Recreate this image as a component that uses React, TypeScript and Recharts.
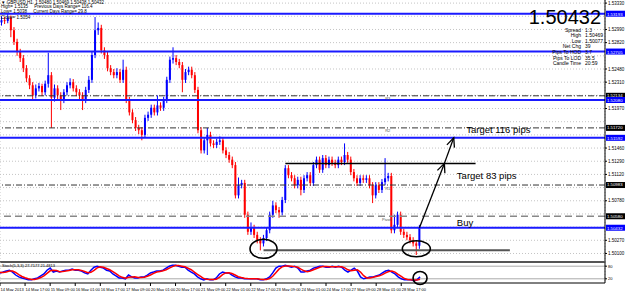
import React from "react";
import {
  ComposedChart,
  Bar,
  Line,
  XAxis,
  YAxis,
  CartesianGrid,
  ReferenceLine,
  ReferenceDot,
} from "recharts";

// GBPUSD candles
const opens = [
  1.5308, 1.5311, 1.531, 1.5314, 1.5298, 1.5283, 1.527, 1.5262, 1.5249, 1.5236,
  1.5227, 1.5214, 1.5223, 1.5226, 1.5218, 1.5229, 1.524, 1.5211, 1.5223, 1.5214,
  1.5208, 1.5218, 1.5227, 1.5231, 1.5223, 1.5218, 1.5214, 1.5208, 1.5221, 1.5234,
  1.5266, 1.5298, 1.5301, 1.5272, 1.5266, 1.5249, 1.5244, 1.524, 1.5244, 1.5234,
  1.5247, 1.5208, 1.5192, 1.5182, 1.5172, 1.5169, 1.5163, 1.5185, 1.5189, 1.5198,
  1.5192, 1.5201, 1.5198, 1.5208, 1.5234, 1.526, 1.5262, 1.5257, 1.5253, 1.5234,
  1.5244, 1.5247, 1.524, 1.5221, 1.5169, 1.5143, 1.5156, 1.5163, 1.5152, 1.515,
  1.5154, 1.5156, 1.5143, 1.5137, 1.5131, 1.5124, 1.5085, 1.5098, 1.5101, 1.506,
  1.5038, 1.5043, 1.5034, 1.5027, 1.5023, 1.503, 1.504, 1.506, 1.5072, 1.5066,
  1.5063, 1.5079, 1.512, 1.5111, 1.5107, 1.5098, 1.5105, 1.5092, 1.5107, 1.5111,
  1.5101, 1.5124, 1.5131, 1.5118, 1.5133, 1.5124, 1.5131, 1.5127, 1.5124, 1.5131,
  1.5128, 1.5137, 1.5131, 1.5115, 1.5107, 1.5101, 1.5107, 1.5105, 1.5107, 1.5098,
  1.5085, 1.5098, 1.5092, 1.5102, 1.5107, 1.511, 1.504, 1.5047, 1.506, 1.5038,
  1.5034, 1.5031, 1.5027, 1.5023, 1.502,
];
const closes = [
  1.5311, 1.531, 1.5314, 1.5298, 1.5283, 1.527, 1.5262, 1.5249, 1.5236, 1.5227,
  1.5214, 1.5223, 1.5226, 1.5218, 1.5229, 1.524, 1.5211, 1.5223, 1.5214, 1.5208,
  1.5218, 1.5227, 1.5231, 1.5223, 1.5218, 1.5214, 1.5208, 1.5221, 1.5234, 1.5266,
  1.5298, 1.5301, 1.5272, 1.5266, 1.5249, 1.5244, 1.524, 1.5244, 1.5234, 1.5247,
  1.5208, 1.5192, 1.5182, 1.5172, 1.5169, 1.5163, 1.5185, 1.5189, 1.5198, 1.5192,
  1.5201, 1.5198, 1.5208, 1.5234, 1.526, 1.5262, 1.5257, 1.5253, 1.5234, 1.5244,
  1.5247, 1.524, 1.5221, 1.5169, 1.5143, 1.5156, 1.5163, 1.5152, 1.515, 1.5154,
  1.5156, 1.5143, 1.5137, 1.5131, 1.5124, 1.5085, 1.5098, 1.5101, 1.506, 1.5038,
  1.5043, 1.5034, 1.5027, 1.5023, 1.503, 1.504, 1.506, 1.5072, 1.5066, 1.5063,
  1.5079, 1.512, 1.5111, 1.5107, 1.5098, 1.5105, 1.5092, 1.5107, 1.5111, 1.5101,
  1.5124, 1.5131, 1.5118, 1.5133, 1.5124, 1.5131, 1.5127, 1.5124, 1.5131, 1.5128,
  1.5137, 1.5131, 1.5115, 1.5107, 1.5101, 1.5107, 1.5105, 1.5107, 1.5098, 1.5085,
  1.5098, 1.5092, 1.5102, 1.5107, 1.511, 1.504, 1.5047, 1.506, 1.5038, 1.5034,
  1.5031, 1.5027, 1.5023, 1.502, 1.50432,
];
const highs = [
  1.5316, 1.5315, 1.5319, 1.5317, 1.5302, 1.5287, 1.5274, 1.5266, 1.5253, 1.524,
  1.5231, 1.5228, 1.523, 1.5229, 1.5233, 1.5269, 1.5244, 1.5228, 1.5227, 1.5218,
  1.5222, 1.5231, 1.5236, 1.5235, 1.5227, 1.5222, 1.5218, 1.5225, 1.5239, 1.527,
  1.5315, 1.5308, 1.5305, 1.5276, 1.527, 1.5253, 1.5248, 1.5249, 1.5248, 1.526,
  1.5251, 1.5212, 1.5196, 1.5186, 1.5176, 1.5173, 1.5189, 1.5193, 1.5202, 1.5202,
  1.5214, 1.5205, 1.5212, 1.5238, 1.5264, 1.5276, 1.5266, 1.5261, 1.5257, 1.5248,
  1.5251, 1.5251, 1.5244, 1.5225, 1.5173, 1.516, 1.5172, 1.5167, 1.5156, 1.5158,
  1.5161, 1.516, 1.5147, 1.5141, 1.5135, 1.5128, 1.5108, 1.5105, 1.5105, 1.5064,
  1.505, 1.5047, 1.5038, 1.5031, 1.5034, 1.5044, 1.5064, 1.5078, 1.5076, 1.507,
  1.5083, 1.5124, 1.5124, 1.5115, 1.5111, 1.5109, 1.5109, 1.5111, 1.5115, 1.5115,
  1.5128, 1.5135, 1.5135, 1.5137, 1.5137, 1.5135, 1.5135, 1.5131, 1.5135, 1.5135,
  1.5152, 1.5141, 1.5135, 1.5119, 1.5111, 1.5111, 1.5111, 1.5111, 1.5111, 1.5102,
  1.5102, 1.5102, 1.5106, 1.5133, 1.5114, 1.5114, 1.506, 1.5064, 1.5064, 1.5042,
  1.5038, 1.5035, 1.5031, 1.5027, 1.50469,
];
const lows = [
  1.5304, 1.5306, 1.5307, 1.5289, 1.5279, 1.5265, 1.5257, 1.5244, 1.5231, 1.5222,
  1.5209, 1.521, 1.5219, 1.5213, 1.5214, 1.5224, 1.5172, 1.5206, 1.5209, 1.5195,
  1.5204, 1.5214, 1.5223, 1.5219, 1.5213, 1.5209, 1.5195, 1.5204, 1.5217, 1.523,
  1.5262, 1.5292, 1.5268, 1.5261, 1.5245, 1.524, 1.5236, 1.5236, 1.523, 1.523,
  1.5204, 1.5188, 1.5178, 1.5168, 1.5164, 1.5156, 1.5159, 1.5181, 1.5185, 1.5188,
  1.5188, 1.5194, 1.5194, 1.5204, 1.523, 1.5255, 1.5253, 1.5249, 1.5218, 1.523,
  1.524, 1.5236, 1.5217, 1.5165, 1.5139, 1.5139, 1.5137, 1.5148, 1.5146, 1.5146,
  1.515, 1.5139, 1.5133, 1.5127, 1.512, 1.5081, 1.5081, 1.5094, 1.5056, 1.5034,
  1.5034, 1.503, 1.5023, 1.5014, 1.5019, 1.5026, 1.5036, 1.5056, 1.5062, 1.5056,
  1.5059, 1.5075, 1.5107, 1.5103, 1.5094, 1.5094, 1.5085, 1.5088, 1.5103, 1.5097,
  1.5097, 1.512, 1.5114, 1.5114, 1.512, 1.512, 1.5123, 1.512, 1.512, 1.5124,
  1.5124, 1.5127, 1.5111, 1.5103, 1.5097, 1.5097, 1.5101, 1.5101, 1.5094, 1.5075,
  1.5081, 1.5088, 1.5088, 1.5098, 1.5103, 1.5036, 1.5036, 1.5043, 1.5034, 1.503,
  1.5027, 1.5023, 1.5019, 1.5008, 1.5016,
];

// stochastic sub-window
const stochMain = [
  48, 52, 57, 61, 52, 38, 29, 24, 20, 15, 15, 20, 24, 34, 43, 61, 71, 52, 57, 52,
  57, 61, 61, 66, 61, 61, 57, 48, 43, 61, 75, 80, 75, 71, 61, 57, 43, 34, 24, 24,
  20, 38, 29, 24, 24, 29, 29, 38, 48, 52, 57, 57, 61, 71, 80, 84, 84, 80, 75, 75,
  61, 52, 43, 29, 20, 15, 20, 15, 15, 24, 43, 52, 48, 48, 38, 29, 24, 24, 20, 20,
  20, 20, 20, 15, 15, 20, 29, 48, 71, 80, 80, 84, 80, 75, 80, 71, 52, 52, 57, 61,
  71, 75, 80, 80, 75, 75, 80, 75, 80, 75, 61, 52, 61, 71, 57, 29, 20, 24, 29, 29,
  34, 38, 48, 57, 61, 52, 43, 29, 20, 15, 15, 15, 11, 15, 29,
];
const stochSignal = [
  50, 50, 52, 57, 57, 50, 40, 31, 25, 20, 17, 17, 20, 26, 34, 46, 58, 61, 60, 54,
  55, 57, 60, 63, 63, 63, 60, 55, 49, 51, 60, 72, 77, 75, 69, 63, 54, 45, 34, 27,
  23, 27, 29, 30, 26, 26, 27, 32, 38, 46, 52, 55, 58, 63, 71, 78, 83, 83, 80, 77,
  70, 63, 52, 41, 31, 21, 18, 17, 17, 18, 27, 40, 48, 49, 45, 38, 30, 26, 23, 21,
  20, 20, 20, 18, 17, 17, 21, 32, 49, 66, 77, 81, 81, 80, 78, 75, 66, 58, 54, 57,
  63, 69, 75, 78, 78, 77, 77, 77, 77, 77, 72, 63, 58, 61, 63, 52, 35, 24, 24, 27,
  31, 34, 40, 48, 55, 57, 52, 41, 31, 21, 17, 15, 14, 14, 18,
];

const timeTicks = [0, 8, 16, 24, 32, 40, 48, 56, 64, 72, 80, 88, 96, 104, 112, 120, 128];
const timeLabels = [
  "14 May 2013", "14 May 17:00", "15 May 09:00", "16 May 01:00", "16 May 17:00",
  "17 May 09:00", "20 May 01:00", "20 May 17:00", "21 May 09:00", "22 May 01:00",
  "22 May 17:00", "23 May 09:00", "24 May 01:00", "24 May 17:00", "27 May 09:00",
  "28 May 01:00", "28 May 17:00",
];
const priceTicks = [
  1.501, 1.5027, 1.5044, 1.5061, 1.5078, 1.5095, 1.5112, 1.5129, 1.5146, 1.5163,
  1.518, 1.5197, 1.5214, 1.5231, 1.5248, 1.5265, 1.5282, 1.5299, 1.5316, 1.5333,
];

const blueLevels = [1.53193, 1.52705, 1.5208, 1.51592, 1.50432];
const pivotNames = ["R3", "R2", "R1"];
const pivotLevels = [1.52134, 1.5172, 1.50983];
const pivotMain = 1.5058;
const supportLevel = 1.5014;
const target83 = 1.51262;
const target116 = 1.51592;
const entryPrice = 1.50432;

const infoRows = [
  ["Spread", "1.3"],
  ["High", "1.50469"],
  ["Low", "1.50077"],
  ["Net Chg", "39"],
  ["Pips To HOD", "3.7"],
  ["Pips To LOD", "35.5"],
  ["Candle Time", "20:59"],
];

const SLOTS = 194; // visible bars incl. empty space on the right

const rows = Array.from({ length: SLOTS }, (_, i) => ({
  idx: i,
  open: opens[i],
  close: closes[i],
  high: highs[i],
  low: lows[i],
  range: i < opens.length ? [lows[i], highs[i]] : undefined,
  k: stochMain[i],
  d: stochSignal[i],
}));

const gridTicks = rows.filter((r) => r.idx % 4 === 0).map((r) => r.idx);
const timeLabelAt: Record<number, string> = {};
timeTicks.forEach((t, k) => (timeLabelAt[t] = timeLabels[k]));

// tick labels hidden behind the price tags on the axis
const tagged = [...blueLevels, ...pivotLevels, pivotMain];
const shownTicks = priceTicks.filter((t) => tagged.every((p) => Math.abs(p - t) > 0.0008));

const FONT = "'Liberation Sans', Arial, sans-serif";

function Candle(props: any) {
  const { x, y, width, height, payload } = props;
  if (payload.open == null || height == null) return null;
  const top = Math.min(y, y + height);
  const h = Math.abs(height);
  const { open, close, high, low } = payload;
  const py = (p: number) => top + ((high - p) / (high - low || 1)) * h;
  const color = close >= open ? "#0000ff" : "#ff0000";
  const cx = x + width / 2;
  const b1 = py(Math.max(open, close));
  const b2 = py(Math.min(open, close));
  return (
    <g>
      <line x1={cx} x2={cx} y1={top} y2={top + h} stroke={color} strokeWidth={1} />
      <rect x={cx - 1} y={b1} width={2} height={Math.max(b2 - b1, 1)} fill={color} />
    </g>
  );
}

function PriceTag(props: any) {
  const { viewBox, text, bg, dy = 1.5 } = props;
  if (!viewBox) return null;
  const x = viewBox.x + viewBox.width + 1;
  return (
    <g>
      <rect x={x} y={viewBox.y - 3} width={19} height={6} fill={bg} />
      <text x={x + 1} y={viewBox.y + dy} fontSize={4.3} fill="#fff" fontFamily={FONT}>
        {text}
      </text>
    </g>
  );
}

function Arrow(props: any) {
  const { x1, y1, x2, y2 } = props;
  const a = Math.atan2(y2 - y1, x2 - x1);
  const L = 9;
  const W = 4;
  const bx = x2 - L * Math.cos(a);
  const by = y2 - L * Math.sin(a);
  const l = `${bx + W * Math.sin(a)},${by - W * Math.cos(a)}`;
  const r = `${bx - W * Math.sin(a)},${by + W * Math.cos(a)}`;
  return (
    <g>
      <line x1={x1} y1={y1} x2={x2} y2={y2} stroke="#000" strokeWidth={1.3} />
      <polyline points={`${l} ${x2},${y2} ${r}`} fill="none" stroke="#000" strokeWidth={1.3} />
    </g>
  );
}

const ellipse = (rx: number, ry: number) => (p: any) =>
  <ellipse cx={p.cx} cy={p.cy} rx={rx} ry={ry} fill="none" stroke="#000" strokeWidth={1.6} />;

const caption = (text: string, size: number, dy = 0, color = "#000") => (p: any) =>
  (
    <text x={p.cx} y={p.cy + dy} fontSize={size} fill={color} fontFamily={FONT}>
      {text}
    </text>
  );

function TimeTick(props: any) {
  const { x, y, payload } = props;
  const label = timeLabelAt[payload.value];
  if (!label) return null;
  return (
    <g>
      <line x1={x} x2={x} y1={y - 2} y2={y + 1} stroke="#000" />
      <text x={x + 0.5} y={y + 5.5} fontSize={4} fill="#000" fontFamily={FONT}>
        {label}
      </text>
    </g>
  );
}

export default function App() {
  const small: React.CSSProperties = {
    position: "absolute",
    fontSize: 4.5,
    lineHeight: "4.5px",
    whiteSpace: "nowrap",
    color: "#000",
  };
  const info: React.CSSProperties = { ...small, fontSize: 5, lineHeight: "5px" };
  return (
    <div
      style={{
        position: "absolute",
        left: 0,
        top: 0,
        width: 625,
        height: 291,
        background: "#fff",
        overflow: "hidden",
        fontFamily: FONT,
      }}
    >
      <ComposedChart width={625} height={262} data={rows} margin={{ top: 0, right: 0, bottom: 0, left: 0 }}>
        <CartesianGrid stroke="#c4c4c4" strokeDasharray="1 2" horizontalValues={priceTicks} />
        <XAxis
          dataKey="idx"
          type="category"
          ticks={gridTicks}
          interval={0}
          height={0}
          tick={false}
          tickLine={false}
          axisLine={false}
        />
        <YAxis
          orientation="right"
          width={20}
          domain={[1.4999, 1.5337]}
          allowDataOverflow
          ticks={shownTicks}
          interval={0}
          tickFormatter={(v: number) => v.toFixed(5)}
          tick={{ fontSize: 4.5, fill: "#000", fontFamily: FONT }}
          tickSize={2}
          tickMargin={1}
          axisLine={{ stroke: "#000" }}
          tickLine={{ stroke: "#000" }}
        />
        <Bar dataKey="range" barSize={3} shape={<Candle />} isAnimationActive={false} />

        {pivotLevels.map((p) => (
          <ReferenceLine
            key={p}
            y={p}
            stroke="#333"
            strokeDasharray="6 2 1 2"
            label={<PriceTag text={p.toFixed(5)} bg="#000" dy={0.8} />}
          />
        ))}
        {pivotLevels.map((p, k) => (
          <ReferenceDot key={"n" + k} x={123} y={p} r={0} shape={caption(pivotNames[k], 4, 4.5, "#555")} />
        ))}
        <ReferenceLine
          y={pivotMain}
          stroke="#888"
          strokeWidth={1.5}
          strokeDasharray="7 4"
          label={<PriceTag text={pivotMain.toFixed(5)} bg="#000" />}
        />
        <ReferenceDot x={122} y={pivotMain} r={0} shape={caption("Pivot", 4, 4.5, "#555")} />
        {blueLevels.map((p) => (
          <ReferenceLine
            key={p}
            y={p}
            stroke="#1a1aff"
            strokeWidth={2}
            label={<PriceTag text={p.toFixed(5)} bg="#0000ff" dy={2.4} />}
          />
        ))}

        <ReferenceLine
          segment={[
            { x: 84, y: supportLevel },
            { x: 163, y: supportLevel },
          ]}
          stroke="#555"
          strokeWidth={2}
        />
        <ReferenceLine
          segment={[
            { x: 91, y: target83 },
            { x: 152, y: target83 },
          ]}
          stroke="#000"
          strokeWidth={1.5}
        />
        <ReferenceLine
          segment={[
            { x: 134, y: entryPrice },
            { x: 142, y: target83 },
          ]}
          shape={Arrow}
        />
        <ReferenceLine
          segment={[
            { x: 142, y: target83 },
            { x: 145, y: target116 },
          ]}
          shape={Arrow}
        />
        <ReferenceDot x={84} y={1.5016} r={0} shape={ellipse(13.5, 9.5)} />
        <ReferenceDot x={133} y={1.5016} r={0} shape={ellipse(14, 8)} />
        <ReferenceDot x={149} y={1.51654} r={0} shape={caption("Target 116 pips", 9.5)} />
        <ReferenceDot x={146} y={1.51061} r={0} shape={caption("Target 83 pips", 9.5)} />
        <ReferenceDot x={146} y={1.50448} r={0} shape={caption("Buy", 9.5)} />
      </ComposedChart>

      <div style={{ position: "absolute", left: 0, top: 261, width: 605, height: 2, background: "#555" }} />

      <div style={{ position: "absolute", left: 0, top: 262 }}>
        <ComposedChart width={625} height={29} data={rows} margin={{ top: 0, right: 0, bottom: 0, left: 0 }}>
          <CartesianGrid xAxisId="grid" horizontal={false} stroke="#c4c4c4" strokeDasharray="1 2" />
          <XAxis
            xAxisId="grid"
            dataKey="idx"
            type="category"
            ticks={gridTicks}
            interval={0}
            height={0}
            tick={false}
            tickLine={false}
            axisLine={false}
          />
          <XAxis
            dataKey="idx"
            type="category"
            ticks={timeTicks}
            interval={0}
            height={8}
            tick={<TimeTick />}
            tickLine={false}
            tickSize={0}
            axisLine={{ stroke: "#000" }}
          />
          <YAxis
            orientation="right"
            width={20}
            domain={[0, 100]}
            allowDataOverflow
            ticks={[20, 80]}
            tick={{ fontSize: 4, fill: "#000", fontFamily: FONT }}
            tickSize={2}
            tickMargin={1}
            axisLine={{ stroke: "#000" }}
            tickLine={{ stroke: "#000" }}
          />
          <ReferenceLine y={80} stroke="#aaa" />
          <ReferenceLine y={20} stroke="#aaa" />
          <Line dataKey="k" type="linear" stroke="#0000ff" strokeWidth={1.5} dot={false} isAnimationActive={false} />
          <Line dataKey="d" type="linear" stroke="#ff0000" strokeWidth={1.5} dot={false} isAnimationActive={false} />
          <ReferenceDot x={134} y={24} r={0} shape={ellipse(7, 6.5)} />
        </ComposedChart>
      </div>

      <div style={{ ...small, left: 2, top: 264, fontSize: 4 }}>Stoch(5,3,3) 27.7177 21.4813</div>

      <div style={{ ...small, left: 1, top: 0.5 }}>▼ GBPUSD,H1 &nbsp;1.50480 1.50469 1.50438 1.50432</div>
      <div style={{ ...small, left: 1, top: 5 }}>High= 1.5135 &nbsp;&nbsp;&nbsp;&nbsp;Previous Days Range= 116.4</div>
      <div style={{ ...small, left: 1, top: 9.5 }}>Low= 1.5038 &nbsp;&nbsp;&nbsp;&nbsp;Current Days Range= 29.8</div>
      <div style={{ ...small, left: 1, top: 15.5 }}>Close= 1.5054</div>

      <div
        style={{
          position: "absolute",
          right: 24,
          top: 9,
          fontSize: 20,
          lineHeight: "17px",
          color: "#000",
        }}
      >
        1.50432
      </div>
      {infoRows.map(([label, value], k) => (
        <React.Fragment key={label}>
          <div style={{ ...info, right: 44, top: 27.5 + k * 5.6 }}>{label}</div>
          <div style={{ ...info, left: 585, top: 27.5 + k * 5.6 }}>{value}</div>
        </React.Fragment>
      ))}
    </div>
  );
}
